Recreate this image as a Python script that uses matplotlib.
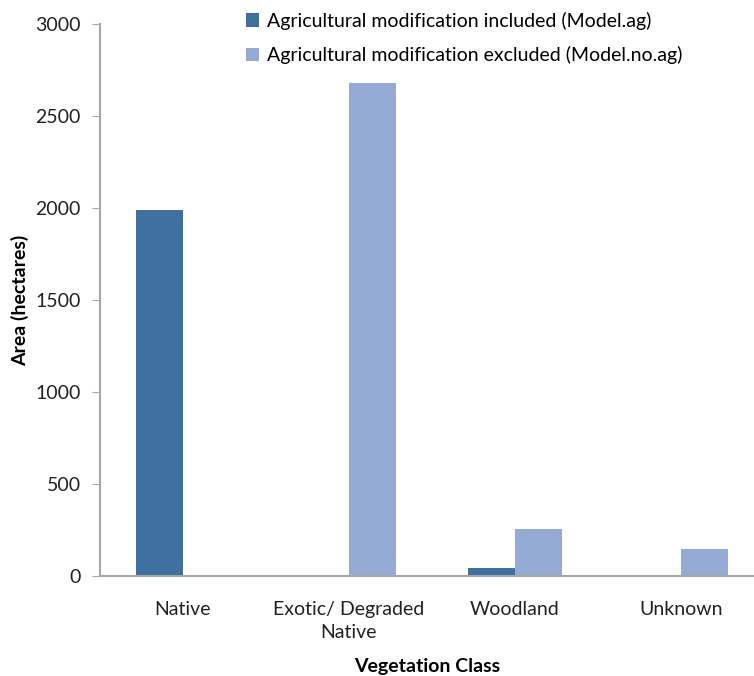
import matplotlib
matplotlib.use("Agg")
import matplotlib.pyplot as plt
import numpy as np

plt.rcParams['font.family'] = ['Lato', 'DejaVu Sans']

categories = ['Native', 'Exotic/ Degraded\nNative', 'Woodland', 'Unknown']
model_ag = [1990, 0, 43, 0]
model_no_ag = [0, 2680, 255, 147]
labels = ['Agricultural modification included (Model.ag)',
          'Agricultural modification excluded (Model.no.ag)']

dark_blue = '#40709f'
light_blue = '#95abd5'
axis_grey = '#a6a6a6'

fig = plt.figure(figsize=(7.54, 6.76), dpi=100)
ax = fig.add_axes([100 / 754, 1 - 576 / 676, 1 - 100 / 754, (576 - 24) / 676])

x = np.arange(len(categories))
w = 0.283
ax.bar(x - w / 2, model_ag, width=w, color=dark_blue, label=labels[0])
ax.bar(x + w / 2, model_no_ag, width=w, color=light_blue, label=labels[1])

ax.set_ylim(0, 3000)
ax.set_xlim(-0.5, 3.44)
ax.set_yticks(range(0, 3001, 500))
ax.set_xticks(x)
ax.set_xticklabels(categories, fontsize=14, linespacing=1.45)
ax.tick_params(axis='y', labelsize=14, length=6, color=axis_grey, pad=8,
               labelcolor='#222222')
ax.tick_params(axis='x', length=0, pad=18, labelcolor='#222222')

for s in ['top', 'right']:
    ax.spines[s].set_visible(False)
for s in ['left', 'bottom']:
    ax.spines[s].set_color(axis_grey)
    ax.spines[s].set_linewidth(1.5)

ax.set_ylabel('Area (hectares)', fontsize=14, fontweight='bold', labelpad=4)
ax.set_xlabel('Vegetation Class', fontsize=14, fontweight='bold', labelpad=12)

fig.legend(loc='upper left', bbox_to_anchor=(238 / 754, 1 - 4 / 676), frameon=False,
           fontsize=14, handlelength=0.7, handleheight=0.7, handletextpad=0.4,
           labelspacing=0.85, borderaxespad=0)

fig.savefig('out.png', dpi=100)
